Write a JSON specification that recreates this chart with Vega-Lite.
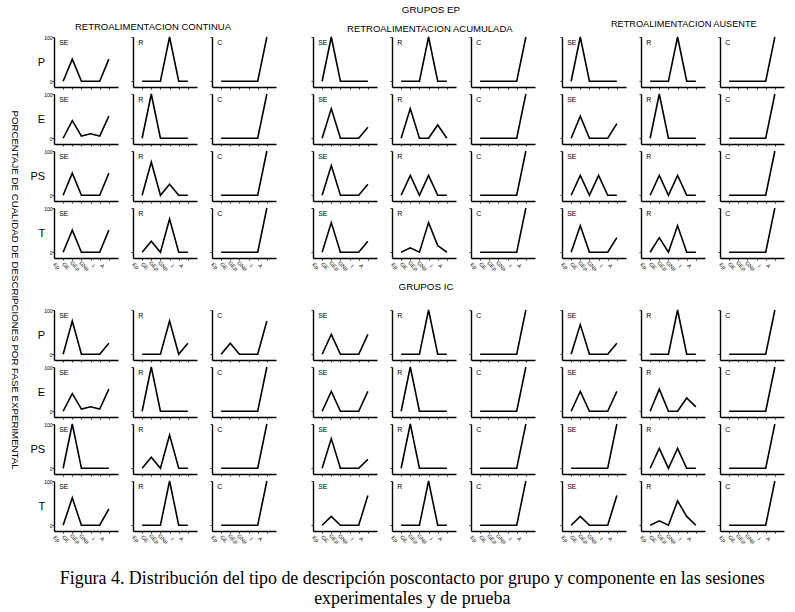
{
"$schema": "https://vega.github.io/schema/vega-lite/v6.json",
"padding": {"left": 10, "top": 4, "right": 2, "bottom": 2},
"config": {
 "font": "Liberation Sans",
 "view": {"stroke": null},
 "axis": {"domainColor": "black", "domainWidth": 1.4, "tickColor": "black", "tickWidth": 0.8, "tickSize": 2, "grid": false, "labelFontSize": 5, "labelColor": "black", "labelPadding": 1, "labelOverlap": false},
 "title": {"fontSize": 9.5, "fontWeight": "normal", "color": "black"},
 "text": {"color": "black"}
},
"title": {"text": ["Figura 4. Distribución del tipo de descripción poscontacto por grupo y componente en las sesiones", "experimentales y de prueba"], "orient": "bottom", "anchor": "middle", "font": "Liberation Serif", "fontSize": 17.9, "fontWeight": "normal", "lineHeight": 20, "offset": 25, "dx": 15},
"data": {"values": [
{"g":"EP","c":"CONT","r":"P","f":"SE","x":"Ep","y":0},{"g":"EP","c":"CONT","r":"P","f":"SE","x":"GE","y":50},{"g":"EP","c":"CONT","r":"P","f":"SE","x":"GEp","y":0},{"g":"EP","c":"CONT","r":"P","f":"SE","x":"GNp","y":0},{"g":"EP","c":"CONT","r":"P","f":"SE","x":"I","y":0},{"g":"EP","c":"CONT","r":"P","f":"SE","x":"A","y":50},
{"g":"EP","c":"CONT","r":"P","f":"R","x":"Ep","y":0},{"g":"EP","c":"CONT","r":"P","f":"R","x":"GE","y":0},{"g":"EP","c":"CONT","r":"P","f":"R","x":"GEp","y":0},{"g":"EP","c":"CONT","r":"P","f":"R","x":"GNp","y":100},{"g":"EP","c":"CONT","r":"P","f":"R","x":"I","y":0},{"g":"EP","c":"CONT","r":"P","f":"R","x":"A","y":0},
{"g":"EP","c":"CONT","r":"P","f":"C","x":"Ep","y":0},{"g":"EP","c":"CONT","r":"P","f":"C","x":"GE","y":0},{"g":"EP","c":"CONT","r":"P","f":"C","x":"GEp","y":0},{"g":"EP","c":"CONT","r":"P","f":"C","x":"GNp","y":0},{"g":"EP","c":"CONT","r":"P","f":"C","x":"I","y":0},{"g":"EP","c":"CONT","r":"P","f":"C","x":"A","y":100},
{"g":"EP","c":"CONT","r":"E","f":"SE","x":"Ep","y":0},{"g":"EP","c":"CONT","r":"E","f":"SE","x":"GE","y":40},{"g":"EP","c":"CONT","r":"E","f":"SE","x":"GEp","y":5},{"g":"EP","c":"CONT","r":"E","f":"SE","x":"GNp","y":10},{"g":"EP","c":"CONT","r":"E","f":"SE","x":"I","y":5},{"g":"EP","c":"CONT","r":"E","f":"SE","x":"A","y":50},
{"g":"EP","c":"CONT","r":"E","f":"R","x":"Ep","y":0},{"g":"EP","c":"CONT","r":"E","f":"R","x":"GE","y":100},{"g":"EP","c":"CONT","r":"E","f":"R","x":"GEp","y":0},{"g":"EP","c":"CONT","r":"E","f":"R","x":"GNp","y":0},{"g":"EP","c":"CONT","r":"E","f":"R","x":"I","y":0},{"g":"EP","c":"CONT","r":"E","f":"R","x":"A","y":0},
{"g":"EP","c":"CONT","r":"E","f":"C","x":"Ep","y":0},{"g":"EP","c":"CONT","r":"E","f":"C","x":"GE","y":0},{"g":"EP","c":"CONT","r":"E","f":"C","x":"GEp","y":0},{"g":"EP","c":"CONT","r":"E","f":"C","x":"GNp","y":0},{"g":"EP","c":"CONT","r":"E","f":"C","x":"I","y":0},{"g":"EP","c":"CONT","r":"E","f":"C","x":"A","y":100},
{"g":"EP","c":"CONT","r":"PS","f":"SE","x":"Ep","y":0},{"g":"EP","c":"CONT","r":"PS","f":"SE","x":"GE","y":50},{"g":"EP","c":"CONT","r":"PS","f":"SE","x":"GEp","y":0},{"g":"EP","c":"CONT","r":"PS","f":"SE","x":"GNp","y":0},{"g":"EP","c":"CONT","r":"PS","f":"SE","x":"I","y":0},{"g":"EP","c":"CONT","r":"PS","f":"SE","x":"A","y":50},
{"g":"EP","c":"CONT","r":"PS","f":"R","x":"Ep","y":0},{"g":"EP","c":"CONT","r":"PS","f":"R","x":"GE","y":75},{"g":"EP","c":"CONT","r":"PS","f":"R","x":"GEp","y":0},{"g":"EP","c":"CONT","r":"PS","f":"R","x":"GNp","y":25},{"g":"EP","c":"CONT","r":"PS","f":"R","x":"I","y":0},{"g":"EP","c":"CONT","r":"PS","f":"R","x":"A","y":0},
{"g":"EP","c":"CONT","r":"PS","f":"C","x":"Ep","y":0},{"g":"EP","c":"CONT","r":"PS","f":"C","x":"GE","y":0},{"g":"EP","c":"CONT","r":"PS","f":"C","x":"GEp","y":0},{"g":"EP","c":"CONT","r":"PS","f":"C","x":"GNp","y":0},{"g":"EP","c":"CONT","r":"PS","f":"C","x":"I","y":0},{"g":"EP","c":"CONT","r":"PS","f":"C","x":"A","y":100},
{"g":"EP","c":"CONT","r":"T","f":"SE","x":"Ep","y":0},{"g":"EP","c":"CONT","r":"T","f":"SE","x":"GE","y":50},{"g":"EP","c":"CONT","r":"T","f":"SE","x":"GEp","y":0},{"g":"EP","c":"CONT","r":"T","f":"SE","x":"GNp","y":0},{"g":"EP","c":"CONT","r":"T","f":"SE","x":"I","y":0},{"g":"EP","c":"CONT","r":"T","f":"SE","x":"A","y":50},
{"g":"EP","c":"CONT","r":"T","f":"R","x":"Ep","y":0},{"g":"EP","c":"CONT","r":"T","f":"R","x":"GE","y":25},{"g":"EP","c":"CONT","r":"T","f":"R","x":"GEp","y":0},{"g":"EP","c":"CONT","r":"T","f":"R","x":"GNp","y":75},{"g":"EP","c":"CONT","r":"T","f":"R","x":"I","y":0},{"g":"EP","c":"CONT","r":"T","f":"R","x":"A","y":0},
{"g":"EP","c":"CONT","r":"T","f":"C","x":"Ep","y":0},{"g":"EP","c":"CONT","r":"T","f":"C","x":"GE","y":0},{"g":"EP","c":"CONT","r":"T","f":"C","x":"GEp","y":0},{"g":"EP","c":"CONT","r":"T","f":"C","x":"GNp","y":0},{"g":"EP","c":"CONT","r":"T","f":"C","x":"I","y":0},{"g":"EP","c":"CONT","r":"T","f":"C","x":"A","y":100},

{"g":"EP","c":"ACUM","r":"P","f":"SE","x":"Ep","y":0},{"g":"EP","c":"ACUM","r":"P","f":"SE","x":"GE","y":100},{"g":"EP","c":"ACUM","r":"P","f":"SE","x":"GEp","y":0},{"g":"EP","c":"ACUM","r":"P","f":"SE","x":"GNp","y":0},{"g":"EP","c":"ACUM","r":"P","f":"SE","x":"I","y":0},{"g":"EP","c":"ACUM","r":"P","f":"SE","x":"A","y":0},
{"g":"EP","c":"ACUM","r":"P","f":"R","x":"Ep","y":0},{"g":"EP","c":"ACUM","r":"P","f":"R","x":"GE","y":0},{"g":"EP","c":"ACUM","r":"P","f":"R","x":"GEp","y":0},{"g":"EP","c":"ACUM","r":"P","f":"R","x":"GNp","y":100},{"g":"EP","c":"ACUM","r":"P","f":"R","x":"I","y":0},{"g":"EP","c":"ACUM","r":"P","f":"R","x":"A","y":0},
{"g":"EP","c":"ACUM","r":"P","f":"C","x":"Ep","y":0},{"g":"EP","c":"ACUM","r":"P","f":"C","x":"GE","y":0},{"g":"EP","c":"ACUM","r":"P","f":"C","x":"GEp","y":0},{"g":"EP","c":"ACUM","r":"P","f":"C","x":"GNp","y":0},{"g":"EP","c":"ACUM","r":"P","f":"C","x":"I","y":0},{"g":"EP","c":"ACUM","r":"P","f":"C","x":"A","y":100},
{"g":"EP","c":"ACUM","r":"E","f":"SE","x":"Ep","y":0},{"g":"EP","c":"ACUM","r":"E","f":"SE","x":"GE","y":67},{"g":"EP","c":"ACUM","r":"E","f":"SE","x":"GEp","y":0},{"g":"EP","c":"ACUM","r":"E","f":"SE","x":"GNp","y":0},{"g":"EP","c":"ACUM","r":"E","f":"SE","x":"I","y":0},{"g":"EP","c":"ACUM","r":"E","f":"SE","x":"A","y":25},
{"g":"EP","c":"ACUM","r":"E","f":"R","x":"Ep","y":0},{"g":"EP","c":"ACUM","r":"E","f":"R","x":"GE","y":67},{"g":"EP","c":"ACUM","r":"E","f":"R","x":"GEp","y":0},{"g":"EP","c":"ACUM","r":"E","f":"R","x":"GNp","y":0},{"g":"EP","c":"ACUM","r":"E","f":"R","x":"I","y":30},{"g":"EP","c":"ACUM","r":"E","f":"R","x":"A","y":0},
{"g":"EP","c":"ACUM","r":"E","f":"C","x":"Ep","y":0},{"g":"EP","c":"ACUM","r":"E","f":"C","x":"GE","y":0},{"g":"EP","c":"ACUM","r":"E","f":"C","x":"GEp","y":0},{"g":"EP","c":"ACUM","r":"E","f":"C","x":"GNp","y":0},{"g":"EP","c":"ACUM","r":"E","f":"C","x":"I","y":0},{"g":"EP","c":"ACUM","r":"E","f":"C","x":"A","y":100},
{"g":"EP","c":"ACUM","r":"PS","f":"SE","x":"Ep","y":0},{"g":"EP","c":"ACUM","r":"PS","f":"SE","x":"GE","y":67},{"g":"EP","c":"ACUM","r":"PS","f":"SE","x":"GEp","y":0},{"g":"EP","c":"ACUM","r":"PS","f":"SE","x":"GNp","y":0},{"g":"EP","c":"ACUM","r":"PS","f":"SE","x":"I","y":0},{"g":"EP","c":"ACUM","r":"PS","f":"SE","x":"A","y":25},
{"g":"EP","c":"ACUM","r":"PS","f":"R","x":"Ep","y":0},{"g":"EP","c":"ACUM","r":"PS","f":"R","x":"GE","y":45},{"g":"EP","c":"ACUM","r":"PS","f":"R","x":"GEp","y":0},{"g":"EP","c":"ACUM","r":"PS","f":"R","x":"GNp","y":45},{"g":"EP","c":"ACUM","r":"PS","f":"R","x":"I","y":0},{"g":"EP","c":"ACUM","r":"PS","f":"R","x":"A","y":0},
{"g":"EP","c":"ACUM","r":"PS","f":"C","x":"Ep","y":0},{"g":"EP","c":"ACUM","r":"PS","f":"C","x":"GE","y":0},{"g":"EP","c":"ACUM","r":"PS","f":"C","x":"GEp","y":0},{"g":"EP","c":"ACUM","r":"PS","f":"C","x":"GNp","y":0},{"g":"EP","c":"ACUM","r":"PS","f":"C","x":"I","y":0},{"g":"EP","c":"ACUM","r":"PS","f":"C","x":"A","y":100},
{"g":"EP","c":"ACUM","r":"T","f":"SE","x":"Ep","y":0},{"g":"EP","c":"ACUM","r":"T","f":"SE","x":"GE","y":67},{"g":"EP","c":"ACUM","r":"T","f":"SE","x":"GEp","y":0},{"g":"EP","c":"ACUM","r":"T","f":"SE","x":"GNp","y":0},{"g":"EP","c":"ACUM","r":"T","f":"SE","x":"I","y":0},{"g":"EP","c":"ACUM","r":"T","f":"SE","x":"A","y":25},
{"g":"EP","c":"ACUM","r":"T","f":"R","x":"Ep","y":0},{"g":"EP","c":"ACUM","r":"T","f":"R","x":"GE","y":10},{"g":"EP","c":"ACUM","r":"T","f":"R","x":"GEp","y":0},{"g":"EP","c":"ACUM","r":"T","f":"R","x":"GNp","y":67},{"g":"EP","c":"ACUM","r":"T","f":"R","x":"I","y":15},{"g":"EP","c":"ACUM","r":"T","f":"R","x":"A","y":0},
{"g":"EP","c":"ACUM","r":"T","f":"C","x":"Ep","y":0},{"g":"EP","c":"ACUM","r":"T","f":"C","x":"GE","y":0},{"g":"EP","c":"ACUM","r":"T","f":"C","x":"GEp","y":0},{"g":"EP","c":"ACUM","r":"T","f":"C","x":"GNp","y":0},{"g":"EP","c":"ACUM","r":"T","f":"C","x":"I","y":0},{"g":"EP","c":"ACUM","r":"T","f":"C","x":"A","y":100},

{"g":"EP","c":"AUS","r":"P","f":"SE","x":"Ep","y":0},{"g":"EP","c":"AUS","r":"P","f":"SE","x":"GE","y":100},{"g":"EP","c":"AUS","r":"P","f":"SE","x":"GEp","y":0},{"g":"EP","c":"AUS","r":"P","f":"SE","x":"GNp","y":0},{"g":"EP","c":"AUS","r":"P","f":"SE","x":"I","y":0},{"g":"EP","c":"AUS","r":"P","f":"SE","x":"A","y":0},
{"g":"EP","c":"AUS","r":"P","f":"R","x":"Ep","y":0},{"g":"EP","c":"AUS","r":"P","f":"R","x":"GE","y":0},{"g":"EP","c":"AUS","r":"P","f":"R","x":"GEp","y":0},{"g":"EP","c":"AUS","r":"P","f":"R","x":"GNp","y":100},{"g":"EP","c":"AUS","r":"P","f":"R","x":"I","y":0},{"g":"EP","c":"AUS","r":"P","f":"R","x":"A","y":0},
{"g":"EP","c":"AUS","r":"P","f":"C","x":"Ep","y":0},{"g":"EP","c":"AUS","r":"P","f":"C","x":"GE","y":0},{"g":"EP","c":"AUS","r":"P","f":"C","x":"GEp","y":0},{"g":"EP","c":"AUS","r":"P","f":"C","x":"GNp","y":0},{"g":"EP","c":"AUS","r":"P","f":"C","x":"I","y":0},{"g":"EP","c":"AUS","r":"P","f":"C","x":"A","y":100},
{"g":"EP","c":"AUS","r":"E","f":"SE","x":"Ep","y":0},{"g":"EP","c":"AUS","r":"E","f":"SE","x":"GE","y":50},{"g":"EP","c":"AUS","r":"E","f":"SE","x":"GEp","y":0},{"g":"EP","c":"AUS","r":"E","f":"SE","x":"GNp","y":0},{"g":"EP","c":"AUS","r":"E","f":"SE","x":"I","y":0},{"g":"EP","c":"AUS","r":"E","f":"SE","x":"A","y":33},
{"g":"EP","c":"AUS","r":"E","f":"R","x":"Ep","y":0},{"g":"EP","c":"AUS","r":"E","f":"R","x":"GE","y":100},{"g":"EP","c":"AUS","r":"E","f":"R","x":"GEp","y":0},{"g":"EP","c":"AUS","r":"E","f":"R","x":"GNp","y":0},{"g":"EP","c":"AUS","r":"E","f":"R","x":"I","y":0},{"g":"EP","c":"AUS","r":"E","f":"R","x":"A","y":0},
{"g":"EP","c":"AUS","r":"E","f":"C","x":"Ep","y":0},{"g":"EP","c":"AUS","r":"E","f":"C","x":"GE","y":0},{"g":"EP","c":"AUS","r":"E","f":"C","x":"GEp","y":0},{"g":"EP","c":"AUS","r":"E","f":"C","x":"GNp","y":0},{"g":"EP","c":"AUS","r":"E","f":"C","x":"I","y":0},{"g":"EP","c":"AUS","r":"E","f":"C","x":"A","y":100},
{"g":"EP","c":"AUS","r":"PS","f":"SE","x":"Ep","y":0},{"g":"EP","c":"AUS","r":"PS","f":"SE","x":"GE","y":45},{"g":"EP","c":"AUS","r":"PS","f":"SE","x":"GEp","y":0},{"g":"EP","c":"AUS","r":"PS","f":"SE","x":"GNp","y":45},{"g":"EP","c":"AUS","r":"PS","f":"SE","x":"I","y":0},{"g":"EP","c":"AUS","r":"PS","f":"SE","x":"A","y":0},
{"g":"EP","c":"AUS","r":"PS","f":"R","x":"Ep","y":0},{"g":"EP","c":"AUS","r":"PS","f":"R","x":"GE","y":45},{"g":"EP","c":"AUS","r":"PS","f":"R","x":"GEp","y":0},{"g":"EP","c":"AUS","r":"PS","f":"R","x":"GNp","y":45},{"g":"EP","c":"AUS","r":"PS","f":"R","x":"I","y":0},{"g":"EP","c":"AUS","r":"PS","f":"R","x":"A","y":0},
{"g":"EP","c":"AUS","r":"PS","f":"C","x":"Ep","y":0},{"g":"EP","c":"AUS","r":"PS","f":"C","x":"GE","y":0},{"g":"EP","c":"AUS","r":"PS","f":"C","x":"GEp","y":0},{"g":"EP","c":"AUS","r":"PS","f":"C","x":"GNp","y":0},{"g":"EP","c":"AUS","r":"PS","f":"C","x":"I","y":0},{"g":"EP","c":"AUS","r":"PS","f":"C","x":"A","y":100},
{"g":"EP","c":"AUS","r":"T","f":"SE","x":"Ep","y":0},{"g":"EP","c":"AUS","r":"T","f":"SE","x":"GE","y":60},{"g":"EP","c":"AUS","r":"T","f":"SE","x":"GEp","y":0},{"g":"EP","c":"AUS","r":"T","f":"SE","x":"GNp","y":0},{"g":"EP","c":"AUS","r":"T","f":"SE","x":"I","y":0},{"g":"EP","c":"AUS","r":"T","f":"SE","x":"A","y":33},
{"g":"EP","c":"AUS","r":"T","f":"R","x":"Ep","y":0},{"g":"EP","c":"AUS","r":"T","f":"R","x":"GE","y":33},{"g":"EP","c":"AUS","r":"T","f":"R","x":"GEp","y":0},{"g":"EP","c":"AUS","r":"T","f":"R","x":"GNp","y":60},{"g":"EP","c":"AUS","r":"T","f":"R","x":"I","y":0},{"g":"EP","c":"AUS","r":"T","f":"R","x":"A","y":0},
{"g":"EP","c":"AUS","r":"T","f":"C","x":"Ep","y":0},{"g":"EP","c":"AUS","r":"T","f":"C","x":"GE","y":0},{"g":"EP","c":"AUS","r":"T","f":"C","x":"GEp","y":0},{"g":"EP","c":"AUS","r":"T","f":"C","x":"GNp","y":0},{"g":"EP","c":"AUS","r":"T","f":"C","x":"I","y":0},{"g":"EP","c":"AUS","r":"T","f":"C","x":"A","y":100},

{"g":"IC","c":"CONT","r":"P","f":"SE","x":"Ep","y":0},{"g":"IC","c":"CONT","r":"P","f":"SE","x":"GE","y":75},{"g":"IC","c":"CONT","r":"P","f":"SE","x":"GEp","y":0},{"g":"IC","c":"CONT","r":"P","f":"SE","x":"GNp","y":0},{"g":"IC","c":"CONT","r":"P","f":"SE","x":"I","y":0},{"g":"IC","c":"CONT","r":"P","f":"SE","x":"A","y":25},
{"g":"IC","c":"CONT","r":"P","f":"R","x":"Ep","y":0},{"g":"IC","c":"CONT","r":"P","f":"R","x":"GE","y":0},{"g":"IC","c":"CONT","r":"P","f":"R","x":"GEp","y":0},{"g":"IC","c":"CONT","r":"P","f":"R","x":"GNp","y":75},{"g":"IC","c":"CONT","r":"P","f":"R","x":"I","y":0},{"g":"IC","c":"CONT","r":"P","f":"R","x":"A","y":25},
{"g":"IC","c":"CONT","r":"P","f":"C","x":"Ep","y":0},{"g":"IC","c":"CONT","r":"P","f":"C","x":"GE","y":25},{"g":"IC","c":"CONT","r":"P","f":"C","x":"GEp","y":0},{"g":"IC","c":"CONT","r":"P","f":"C","x":"GNp","y":0},{"g":"IC","c":"CONT","r":"P","f":"C","x":"I","y":0},{"g":"IC","c":"CONT","r":"P","f":"C","x":"A","y":75},
{"g":"IC","c":"CONT","r":"E","f":"SE","x":"Ep","y":0},{"g":"IC","c":"CONT","r":"E","f":"SE","x":"GE","y":40},{"g":"IC","c":"CONT","r":"E","f":"SE","x":"GEp","y":5},{"g":"IC","c":"CONT","r":"E","f":"SE","x":"GNp","y":10},{"g":"IC","c":"CONT","r":"E","f":"SE","x":"I","y":5},{"g":"IC","c":"CONT","r":"E","f":"SE","x":"A","y":50},
{"g":"IC","c":"CONT","r":"E","f":"R","x":"Ep","y":0},{"g":"IC","c":"CONT","r":"E","f":"R","x":"GE","y":100},{"g":"IC","c":"CONT","r":"E","f":"R","x":"GEp","y":0},{"g":"IC","c":"CONT","r":"E","f":"R","x":"GNp","y":0},{"g":"IC","c":"CONT","r":"E","f":"R","x":"I","y":0},{"g":"IC","c":"CONT","r":"E","f":"R","x":"A","y":0},
{"g":"IC","c":"CONT","r":"E","f":"C","x":"Ep","y":0},{"g":"IC","c":"CONT","r":"E","f":"C","x":"GE","y":0},{"g":"IC","c":"CONT","r":"E","f":"C","x":"GEp","y":0},{"g":"IC","c":"CONT","r":"E","f":"C","x":"GNp","y":0},{"g":"IC","c":"CONT","r":"E","f":"C","x":"I","y":0},{"g":"IC","c":"CONT","r":"E","f":"C","x":"A","y":100},
{"g":"IC","c":"CONT","r":"PS","f":"SE","x":"Ep","y":0},{"g":"IC","c":"CONT","r":"PS","f":"SE","x":"GE","y":100},{"g":"IC","c":"CONT","r":"PS","f":"SE","x":"GEp","y":0},{"g":"IC","c":"CONT","r":"PS","f":"SE","x":"GNp","y":0},{"g":"IC","c":"CONT","r":"PS","f":"SE","x":"I","y":0},{"g":"IC","c":"CONT","r":"PS","f":"SE","x":"A","y":0},
{"g":"IC","c":"CONT","r":"PS","f":"R","x":"Ep","y":0},{"g":"IC","c":"CONT","r":"PS","f":"R","x":"GE","y":25},{"g":"IC","c":"CONT","r":"PS","f":"R","x":"GEp","y":0},{"g":"IC","c":"CONT","r":"PS","f":"R","x":"GNp","y":75},{"g":"IC","c":"CONT","r":"PS","f":"R","x":"I","y":0},{"g":"IC","c":"CONT","r":"PS","f":"R","x":"A","y":0},
{"g":"IC","c":"CONT","r":"PS","f":"C","x":"Ep","y":0},{"g":"IC","c":"CONT","r":"PS","f":"C","x":"GE","y":0},{"g":"IC","c":"CONT","r":"PS","f":"C","x":"GEp","y":0},{"g":"IC","c":"CONT","r":"PS","f":"C","x":"GNp","y":0},{"g":"IC","c":"CONT","r":"PS","f":"C","x":"I","y":0},{"g":"IC","c":"CONT","r":"PS","f":"C","x":"A","y":100},
{"g":"IC","c":"CONT","r":"T","f":"SE","x":"Ep","y":0},{"g":"IC","c":"CONT","r":"T","f":"SE","x":"GE","y":62},{"g":"IC","c":"CONT","r":"T","f":"SE","x":"GEp","y":0},{"g":"IC","c":"CONT","r":"T","f":"SE","x":"GNp","y":0},{"g":"IC","c":"CONT","r":"T","f":"SE","x":"I","y":0},{"g":"IC","c":"CONT","r":"T","f":"SE","x":"A","y":37},
{"g":"IC","c":"CONT","r":"T","f":"R","x":"Ep","y":0},{"g":"IC","c":"CONT","r":"T","f":"R","x":"GE","y":0},{"g":"IC","c":"CONT","r":"T","f":"R","x":"GEp","y":0},{"g":"IC","c":"CONT","r":"T","f":"R","x":"GNp","y":100},{"g":"IC","c":"CONT","r":"T","f":"R","x":"I","y":0},{"g":"IC","c":"CONT","r":"T","f":"R","x":"A","y":0},
{"g":"IC","c":"CONT","r":"T","f":"C","x":"Ep","y":0},{"g":"IC","c":"CONT","r":"T","f":"C","x":"GE","y":0},{"g":"IC","c":"CONT","r":"T","f":"C","x":"GEp","y":0},{"g":"IC","c":"CONT","r":"T","f":"C","x":"GNp","y":0},{"g":"IC","c":"CONT","r":"T","f":"C","x":"I","y":0},{"g":"IC","c":"CONT","r":"T","f":"C","x":"A","y":100},

{"g":"IC","c":"ACUM","r":"P","f":"SE","x":"Ep","y":0},{"g":"IC","c":"ACUM","r":"P","f":"SE","x":"GE","y":45},{"g":"IC","c":"ACUM","r":"P","f":"SE","x":"GEp","y":0},{"g":"IC","c":"ACUM","r":"P","f":"SE","x":"GNp","y":0},{"g":"IC","c":"ACUM","r":"P","f":"SE","x":"I","y":0},{"g":"IC","c":"ACUM","r":"P","f":"SE","x":"A","y":45},
{"g":"IC","c":"ACUM","r":"P","f":"R","x":"Ep","y":0},{"g":"IC","c":"ACUM","r":"P","f":"R","x":"GE","y":0},{"g":"IC","c":"ACUM","r":"P","f":"R","x":"GEp","y":0},{"g":"IC","c":"ACUM","r":"P","f":"R","x":"GNp","y":100},{"g":"IC","c":"ACUM","r":"P","f":"R","x":"I","y":0},{"g":"IC","c":"ACUM","r":"P","f":"R","x":"A","y":0},
{"g":"IC","c":"ACUM","r":"P","f":"C","x":"Ep","y":0},{"g":"IC","c":"ACUM","r":"P","f":"C","x":"GE","y":0},{"g":"IC","c":"ACUM","r":"P","f":"C","x":"GEp","y":0},{"g":"IC","c":"ACUM","r":"P","f":"C","x":"GNp","y":0},{"g":"IC","c":"ACUM","r":"P","f":"C","x":"I","y":0},{"g":"IC","c":"ACUM","r":"P","f":"C","x":"A","y":100},
{"g":"IC","c":"ACUM","r":"E","f":"SE","x":"Ep","y":0},{"g":"IC","c":"ACUM","r":"E","f":"SE","x":"GE","y":45},{"g":"IC","c":"ACUM","r":"E","f":"SE","x":"GEp","y":0},{"g":"IC","c":"ACUM","r":"E","f":"SE","x":"GNp","y":0},{"g":"IC","c":"ACUM","r":"E","f":"SE","x":"I","y":0},{"g":"IC","c":"ACUM","r":"E","f":"SE","x":"A","y":45},
{"g":"IC","c":"ACUM","r":"E","f":"R","x":"Ep","y":0},{"g":"IC","c":"ACUM","r":"E","f":"R","x":"GE","y":100},{"g":"IC","c":"ACUM","r":"E","f":"R","x":"GEp","y":0},{"g":"IC","c":"ACUM","r":"E","f":"R","x":"GNp","y":0},{"g":"IC","c":"ACUM","r":"E","f":"R","x":"I","y":0},{"g":"IC","c":"ACUM","r":"E","f":"R","x":"A","y":0},
{"g":"IC","c":"ACUM","r":"E","f":"C","x":"Ep","y":0},{"g":"IC","c":"ACUM","r":"E","f":"C","x":"GE","y":0},{"g":"IC","c":"ACUM","r":"E","f":"C","x":"GEp","y":0},{"g":"IC","c":"ACUM","r":"E","f":"C","x":"GNp","y":0},{"g":"IC","c":"ACUM","r":"E","f":"C","x":"I","y":0},{"g":"IC","c":"ACUM","r":"E","f":"C","x":"A","y":100},
{"g":"IC","c":"ACUM","r":"PS","f":"SE","x":"Ep","y":0},{"g":"IC","c":"ACUM","r":"PS","f":"SE","x":"GE","y":67},{"g":"IC","c":"ACUM","r":"PS","f":"SE","x":"GEp","y":0},{"g":"IC","c":"ACUM","r":"PS","f":"SE","x":"GNp","y":0},{"g":"IC","c":"ACUM","r":"PS","f":"SE","x":"I","y":0},{"g":"IC","c":"ACUM","r":"PS","f":"SE","x":"A","y":20},
{"g":"IC","c":"ACUM","r":"PS","f":"R","x":"Ep","y":0},{"g":"IC","c":"ACUM","r":"PS","f":"R","x":"GE","y":100},{"g":"IC","c":"ACUM","r":"PS","f":"R","x":"GEp","y":0},{"g":"IC","c":"ACUM","r":"PS","f":"R","x":"GNp","y":0},{"g":"IC","c":"ACUM","r":"PS","f":"R","x":"I","y":0},{"g":"IC","c":"ACUM","r":"PS","f":"R","x":"A","y":0},
{"g":"IC","c":"ACUM","r":"PS","f":"C","x":"Ep","y":0},{"g":"IC","c":"ACUM","r":"PS","f":"C","x":"GE","y":0},{"g":"IC","c":"ACUM","r":"PS","f":"C","x":"GEp","y":0},{"g":"IC","c":"ACUM","r":"PS","f":"C","x":"GNp","y":0},{"g":"IC","c":"ACUM","r":"PS","f":"C","x":"I","y":0},{"g":"IC","c":"ACUM","r":"PS","f":"C","x":"A","y":100},
{"g":"IC","c":"ACUM","r":"T","f":"SE","x":"Ep","y":0},{"g":"IC","c":"ACUM","r":"T","f":"SE","x":"GE","y":20},{"g":"IC","c":"ACUM","r":"T","f":"SE","x":"GEp","y":0},{"g":"IC","c":"ACUM","r":"T","f":"SE","x":"GNp","y":0},{"g":"IC","c":"ACUM","r":"T","f":"SE","x":"I","y":0},{"g":"IC","c":"ACUM","r":"T","f":"SE","x":"A","y":67},
{"g":"IC","c":"ACUM","r":"T","f":"R","x":"Ep","y":0},{"g":"IC","c":"ACUM","r":"T","f":"R","x":"GE","y":0},{"g":"IC","c":"ACUM","r":"T","f":"R","x":"GEp","y":0},{"g":"IC","c":"ACUM","r":"T","f":"R","x":"GNp","y":100},{"g":"IC","c":"ACUM","r":"T","f":"R","x":"I","y":0},{"g":"IC","c":"ACUM","r":"T","f":"R","x":"A","y":0},
{"g":"IC","c":"ACUM","r":"T","f":"C","x":"Ep","y":0},{"g":"IC","c":"ACUM","r":"T","f":"C","x":"GE","y":0},{"g":"IC","c":"ACUM","r":"T","f":"C","x":"GEp","y":0},{"g":"IC","c":"ACUM","r":"T","f":"C","x":"GNp","y":0},{"g":"IC","c":"ACUM","r":"T","f":"C","x":"I","y":0},{"g":"IC","c":"ACUM","r":"T","f":"C","x":"A","y":100},

{"g":"IC","c":"AUS","r":"P","f":"SE","x":"Ep","y":0},{"g":"IC","c":"AUS","r":"P","f":"SE","x":"GE","y":67},{"g":"IC","c":"AUS","r":"P","f":"SE","x":"GEp","y":0},{"g":"IC","c":"AUS","r":"P","f":"SE","x":"GNp","y":0},{"g":"IC","c":"AUS","r":"P","f":"SE","x":"I","y":0},{"g":"IC","c":"AUS","r":"P","f":"SE","x":"A","y":25},
{"g":"IC","c":"AUS","r":"P","f":"R","x":"Ep","y":0},{"g":"IC","c":"AUS","r":"P","f":"R","x":"GE","y":0},{"g":"IC","c":"AUS","r":"P","f":"R","x":"GEp","y":0},{"g":"IC","c":"AUS","r":"P","f":"R","x":"GNp","y":100},{"g":"IC","c":"AUS","r":"P","f":"R","x":"I","y":0},{"g":"IC","c":"AUS","r":"P","f":"R","x":"A","y":0},
{"g":"IC","c":"AUS","r":"P","f":"C","x":"Ep","y":0},{"g":"IC","c":"AUS","r":"P","f":"C","x":"GE","y":0},{"g":"IC","c":"AUS","r":"P","f":"C","x":"GEp","y":0},{"g":"IC","c":"AUS","r":"P","f":"C","x":"GNp","y":0},{"g":"IC","c":"AUS","r":"P","f":"C","x":"I","y":0},{"g":"IC","c":"AUS","r":"P","f":"C","x":"A","y":100},
{"g":"IC","c":"AUS","r":"E","f":"SE","x":"Ep","y":0},{"g":"IC","c":"AUS","r":"E","f":"SE","x":"GE","y":45},{"g":"IC","c":"AUS","r":"E","f":"SE","x":"GEp","y":0},{"g":"IC","c":"AUS","r":"E","f":"SE","x":"GNp","y":0},{"g":"IC","c":"AUS","r":"E","f":"SE","x":"I","y":0},{"g":"IC","c":"AUS","r":"E","f":"SE","x":"A","y":45},
{"g":"IC","c":"AUS","r":"E","f":"R","x":"Ep","y":0},{"g":"IC","c":"AUS","r":"E","f":"R","x":"GE","y":50},{"g":"IC","c":"AUS","r":"E","f":"R","x":"GEp","y":0},{"g":"IC","c":"AUS","r":"E","f":"R","x":"GNp","y":0},{"g":"IC","c":"AUS","r":"E","f":"R","x":"I","y":30},{"g":"IC","c":"AUS","r":"E","f":"R","x":"A","y":10},
{"g":"IC","c":"AUS","r":"E","f":"C","x":"Ep","y":0},{"g":"IC","c":"AUS","r":"E","f":"C","x":"GE","y":0},{"g":"IC","c":"AUS","r":"E","f":"C","x":"GEp","y":0},{"g":"IC","c":"AUS","r":"E","f":"C","x":"GNp","y":0},{"g":"IC","c":"AUS","r":"E","f":"C","x":"I","y":0},{"g":"IC","c":"AUS","r":"E","f":"C","x":"A","y":100},
{"g":"IC","c":"AUS","r":"PS","f":"SE","x":"Ep","y":0},{"g":"IC","c":"AUS","r":"PS","f":"SE","x":"GE","y":0},{"g":"IC","c":"AUS","r":"PS","f":"SE","x":"GEp","y":0},{"g":"IC","c":"AUS","r":"PS","f":"SE","x":"GNp","y":0},{"g":"IC","c":"AUS","r":"PS","f":"SE","x":"I","y":0},{"g":"IC","c":"AUS","r":"PS","f":"SE","x":"A","y":100},
{"g":"IC","c":"AUS","r":"PS","f":"R","x":"Ep","y":0},{"g":"IC","c":"AUS","r":"PS","f":"R","x":"GE","y":45},{"g":"IC","c":"AUS","r":"PS","f":"R","x":"GEp","y":0},{"g":"IC","c":"AUS","r":"PS","f":"R","x":"GNp","y":45},{"g":"IC","c":"AUS","r":"PS","f":"R","x":"I","y":0},{"g":"IC","c":"AUS","r":"PS","f":"R","x":"A","y":0},
{"g":"IC","c":"AUS","r":"PS","f":"C","x":"Ep","y":0},{"g":"IC","c":"AUS","r":"PS","f":"C","x":"GE","y":0},{"g":"IC","c":"AUS","r":"PS","f":"C","x":"GEp","y":0},{"g":"IC","c":"AUS","r":"PS","f":"C","x":"GNp","y":0},{"g":"IC","c":"AUS","r":"PS","f":"C","x":"I","y":0},{"g":"IC","c":"AUS","r":"PS","f":"C","x":"A","y":100},
{"g":"IC","c":"AUS","r":"T","f":"SE","x":"Ep","y":0},{"g":"IC","c":"AUS","r":"T","f":"SE","x":"GE","y":20},{"g":"IC","c":"AUS","r":"T","f":"SE","x":"GEp","y":0},{"g":"IC","c":"AUS","r":"T","f":"SE","x":"GNp","y":0},{"g":"IC","c":"AUS","r":"T","f":"SE","x":"I","y":0},{"g":"IC","c":"AUS","r":"T","f":"SE","x":"A","y":67},
{"g":"IC","c":"AUS","r":"T","f":"R","x":"Ep","y":0},{"g":"IC","c":"AUS","r":"T","f":"R","x":"GE","y":10},{"g":"IC","c":"AUS","r":"T","f":"R","x":"GEp","y":0},{"g":"IC","c":"AUS","r":"T","f":"R","x":"GNp","y":55},{"g":"IC","c":"AUS","r":"T","f":"R","x":"I","y":20},{"g":"IC","c":"AUS","r":"T","f":"R","x":"A","y":0},
{"g":"IC","c":"AUS","r":"T","f":"C","x":"Ep","y":0},{"g":"IC","c":"AUS","r":"T","f":"C","x":"GE","y":0},{"g":"IC","c":"AUS","r":"T","f":"C","x":"GEp","y":0},{"g":"IC","c":"AUS","r":"T","f":"C","x":"GNp","y":0},{"g":"IC","c":"AUS","r":"T","f":"C","x":"I","y":0},{"g":"IC","c":"AUS","r":"T","f":"C","x":"A","y":100}
]},
"vconcat": [{
 "title": {"text": "PORCENTAJE DE CUALIDAD DE DESCRIPCIONES POR FASE EXPERIMENTAL", "orient": "left", "angle": 90, "anchor": "middle", "fontSize": 9.7, "offset": 0, "dx": 15},
 "spacing": 9,
 "vconcat": [
  {"title": {"text": "GRUPOS EP", "anchor": "middle", "offset": 5, "fontSize": 9.8, "dx": 24},
   "spacing": 24,
   "hconcat": [
    {"spacing": 34,
     "hconcat": [
      {"title": {"text": "RETROALIMENTACION CONTINUA", "anchor": "middle", "offset": 2},
       "spacing": 12,
       "hconcat": [
        {"spacing": 7, "bounds": "flush",
         "vconcat": [
          {"transform": [{"filter": "datum.g == 'EP' && datum.c == 'CONT' && datum.f == 'SE' && datum.r == 'P'"}],
           "width": 64, "height": 50, "layer": [
            {"mark": {"type": "line", "color": "black", "strokeWidth": 1.6},
             "encoding": {"x": {"field": "x", "type": "ordinal", "sort": ["Ep","GE","GEp","GNp","I","A"], "scale": {"type": "point", "padding": 1}, "axis": {"title": null, "labels": false}},
              "y": {"field": "y", "type": "quantitative", "scale": {"domain": [-13,100], "nice": false, "zero": false}, "axis": {"title": "P", "titleAngle": 0, "titleAlign": "right", "titleBaseline": "middle", "titleFontSize": 11, "titleFontWeight": "normal", "titlePadding": -1, "labels": true, "labelPadding": 0, "labelOverlap": false, "labelSeparation": 0, "values": [0,20,40,60,80,100]}}}},
            {"transform": [{"filter": "datum.x == 'Ep'"}], "mark": {"type": "text", "align": "left", "baseline": "top", "dx": -4, "dy": 2, "fontSize": 7, "fill": "black"},
             "encoding": {"x": {"field": "x", "type": "ordinal", "sort": ["Ep","GE","GEp","GNp","I","A"], "title": null}, "y": {"datum": 100, "title": null}, "text": {"field": "f"}}}
           ]},
          {"transform": [{"filter": "datum.g == 'EP' && datum.c == 'CONT' && datum.f == 'SE' && datum.r == 'E'"}],
           "width": 64, "height": 50, "layer": [
            {"mark": {"type": "line", "color": "black", "strokeWidth": 1.6},
             "encoding": {"x": {"field": "x", "type": "ordinal", "sort": ["Ep","GE","GEp","GNp","I","A"], "scale": {"type": "point", "padding": 1}, "axis": {"title": null, "labels": false}},
              "y": {"field": "y", "type": "quantitative", "scale": {"domain": [-13,100], "nice": false, "zero": false}, "axis": {"title": "E", "titleAngle": 0, "titleAlign": "right", "titleBaseline": "middle", "titleFontSize": 11, "titleFontWeight": "normal", "titlePadding": -1, "labels": true, "labelPadding": 0, "labelOverlap": false, "labelSeparation": 0, "values": [0,20,40,60,80,100]}}}},
            {"transform": [{"filter": "datum.x == 'Ep'"}], "mark": {"type": "text", "align": "left", "baseline": "top", "dx": -4, "dy": 2, "fontSize": 7, "fill": "black"},
             "encoding": {"x": {"field": "x", "type": "ordinal", "sort": ["Ep","GE","GEp","GNp","I","A"], "title": null}, "y": {"datum": 100, "title": null}, "text": {"field": "f"}}}
           ]},
          {"transform": [{"filter": "datum.g == 'EP' && datum.c == 'CONT' && datum.f == 'SE' && datum.r == 'PS'"}],
           "width": 64, "height": 50, "layer": [
            {"mark": {"type": "line", "color": "black", "strokeWidth": 1.6},
             "encoding": {"x": {"field": "x", "type": "ordinal", "sort": ["Ep","GE","GEp","GNp","I","A"], "scale": {"type": "point", "padding": 1}, "axis": {"title": null, "labels": false}},
              "y": {"field": "y", "type": "quantitative", "scale": {"domain": [-13,100], "nice": false, "zero": false}, "axis": {"title": "PS", "titleAngle": 0, "titleAlign": "right", "titleBaseline": "middle", "titleFontSize": 11, "titleFontWeight": "normal", "titlePadding": -1, "labels": true, "labelPadding": 0, "labelOverlap": false, "labelSeparation": 0, "values": [0,20,40,60,80,100]}}}},
            {"transform": [{"filter": "datum.x == 'Ep'"}], "mark": {"type": "text", "align": "left", "baseline": "top", "dx": -4, "dy": 2, "fontSize": 7, "fill": "black"},
             "encoding": {"x": {"field": "x", "type": "ordinal", "sort": ["Ep","GE","GEp","GNp","I","A"], "title": null}, "y": {"datum": 100, "title": null}, "text": {"field": "f"}}}
           ]},
          {"transform": [{"filter": "datum.g == 'EP' && datum.c == 'CONT' && datum.f == 'SE' && datum.r == 'T'"}],
           "width": 64, "height": 50, "layer": [
            {"mark": {"type": "line", "color": "black", "strokeWidth": 1.6},
             "encoding": {"x": {"field": "x", "type": "ordinal", "sort": ["Ep","GE","GEp","GNp","I","A"], "scale": {"type": "point", "padding": 1}, "axis": {"title": null, "labels": false}},
              "y": {"field": "y", "type": "quantitative", "scale": {"domain": [-13,100], "nice": false, "zero": false}, "axis": {"title": "T", "titleAngle": 0, "titleAlign": "right", "titleBaseline": "middle", "titleFontSize": 11, "titleFontWeight": "normal", "titlePadding": -1, "labels": true, "labelPadding": 0, "labelOverlap": false, "labelSeparation": 0, "values": [0,20,40,60,80,100]}}}},
            {"transform": [{"filter": "datum.x == 'Ep'"}], "mark": {"type": "text", "align": "left", "baseline": "top", "dx": -4, "dy": 2, "fontSize": 7, "fill": "black"},
             "encoding": {"x": {"field": "x", "type": "ordinal", "sort": ["Ep","GE","GEp","GNp","I","A"], "title": null}, "y": {"datum": 100, "title": null}, "text": {"field": "f"}}},
            {"mark": {"type": "text", "angle": 45, "align": "center", "baseline": "middle", "dx": 1, "dy": 10, "fontSize": 5.5, "fill": "black"},
             "encoding": {"x": {"field": "x", "type": "ordinal", "sort": ["Ep","GE","GEp","GNp","I","A"], "title": null}, "y": {"datum": -13, "title": null}, "text": {"field": "x"}}}
           ]}
         ]},
        {"transform": [{"filter": "datum.g == 'EP' && datum.c == 'CONT' && datum.f != 'SE'"}],
         "facet": {"row": {"field": "r", "type": "nominal", "sort": ["P","E","PS","T"], "title": null, "header": {"labels": false}},
                   "column": {"field": "f", "type": "nominal", "sort": ["SE","R","C"], "title": null, "header": {"labels": false}}},
         "spacing": {"row": 7, "column": 15}, "bounds": "flush",
         "resolve": {"axis": {"x": "independent", "y": "independent"}},
         "spec": {"width": 64, "height": 50, "layer": [
          {"mark": {"type": "line", "color": "black", "strokeWidth": 1.6},
           "encoding": {"x": {"field": "x", "type": "ordinal", "sort": ["Ep","GE","GEp","GNp","I","A"], "scale": {"type": "point", "padding": 1}, "axis": {"title": null, "labels": false}},
            "y": {"field": "y", "type": "quantitative", "scale": {"domain": [-13,100], "nice": false, "zero": false}, "axis": {"title": null, "labels": false, "values": [0,20,40,60,80,100]}}}},
          {"transform": [{"filter": "datum.x == 'Ep'"}], "mark": {"type": "text", "align": "left", "baseline": "top", "dx": -4, "dy": 2, "fontSize": 7, "fill": "black"},
           "encoding": {"x": {"field": "x", "type": "ordinal", "sort": ["Ep","GE","GEp","GNp","I","A"], "title": null}, "y": {"datum": 100, "title": null}, "text": {"field": "f"}}},
          {"transform": [{"filter": "datum.r == 'T'"}], "mark": {"type": "text", "angle": 45, "align": "center", "baseline": "middle", "dx": 1, "dy": 10, "fontSize": 5.5, "fill": "black"},
           "encoding": {"x": {"field": "x", "type": "ordinal", "sort": ["Ep","GE","GEp","GNp","I","A"], "title": null}, "y": {"datum": -13, "title": null}, "text": {"field": "x"}}}
         ]}}
       ]},
      {"transform": [{"filter": "datum.g == 'EP' && datum.c == 'ACUM'"}],
       "title": {"text": "RETROALIMENTACION ACUMULADA", "anchor": "middle", "offset": 0, "dx": 7},
       "facet": {"row": {"field": "r", "type": "nominal", "sort": ["P","E","PS","T"], "title": null, "header": {"labels": false}},
                 "column": {"field": "f", "type": "nominal", "sort": ["SE","R","C"], "title": null, "header": {"labels": false}}},
       "spacing": {"row": 7, "column": 15}, "bounds": "flush",
       "resolve": {"axis": {"x": "independent", "y": "independent"}},
       "spec": {"width": 64, "height": 50, "layer": [
        {"mark": {"type": "line", "color": "black", "strokeWidth": 1.6},
         "encoding": {"x": {"field": "x", "type": "ordinal", "sort": ["Ep","GE","GEp","GNp","I","A"], "scale": {"type": "point", "padding": 1}, "axis": {"title": null, "labels": false}},
          "y": {"field": "y", "type": "quantitative", "scale": {"domain": [-13,100], "nice": false, "zero": false}, "axis": {"title": null, "labels": false, "values": [0,20,40,60,80,100]}}}},
        {"transform": [{"filter": "datum.x == 'Ep'"}], "mark": {"type": "text", "align": "left", "baseline": "top", "dx": -4, "dy": 2, "fontSize": 7, "fill": "black"},
         "encoding": {"x": {"field": "x", "type": "ordinal", "sort": ["Ep","GE","GEp","GNp","I","A"], "title": null}, "y": {"datum": 100, "title": null}, "text": {"field": "f"}}},
        {"transform": [{"filter": "datum.r == 'T'"}], "mark": {"type": "text", "angle": 45, "align": "center", "baseline": "middle", "dx": 1, "dy": 10, "fontSize": 5.5, "fill": "black"},
         "encoding": {"x": {"field": "x", "type": "ordinal", "sort": ["Ep","GE","GEp","GNp","I","A"], "title": null}, "y": {"datum": -13, "title": null}, "text": {"field": "x"}}}
       ]}}
     ]},
    {"transform": [{"filter": "datum.g == 'EP' && datum.c == 'AUS'"}],
     "title": {"text": "RETROALIMENTACION AUSENTE", "anchor": "middle", "offset": 5, "dx": 12, "fontSize": 9.2},
     "facet": {"row": {"field": "r", "type": "nominal", "sort": ["P","E","PS","T"], "title": null, "header": {"labels": false}},
               "column": {"field": "f", "type": "nominal", "sort": ["SE","R","C"], "title": null, "header": {"labels": false}}},
     "spacing": {"row": 7, "column": 15}, "bounds": "flush",
     "resolve": {"axis": {"x": "independent", "y": "independent"}},
     "spec": {"width": 64, "height": 50, "layer": [
      {"mark": {"type": "line", "color": "black", "strokeWidth": 1.6},
       "encoding": {"x": {"field": "x", "type": "ordinal", "sort": ["Ep","GE","GEp","GNp","I","A"], "scale": {"type": "point", "padding": 1}, "axis": {"title": null, "labels": false}},
        "y": {"field": "y", "type": "quantitative", "scale": {"domain": [-13,100], "nice": false, "zero": false}, "axis": {"title": null, "labels": false, "values": [0,20,40,60,80,100]}}}},
      {"transform": [{"filter": "datum.x == 'Ep'"}], "mark": {"type": "text", "align": "left", "baseline": "top", "dx": -4, "dy": 2, "fontSize": 7, "fill": "black"},
       "encoding": {"x": {"field": "x", "type": "ordinal", "sort": ["Ep","GE","GEp","GNp","I","A"], "title": null}, "y": {"datum": 100, "title": null}, "text": {"field": "f"}}},
      {"transform": [{"filter": "datum.r == 'T'"}], "mark": {"type": "text", "angle": 45, "align": "center", "baseline": "middle", "dx": 1, "dy": 10, "fontSize": 5.5, "fill": "black"},
       "encoding": {"x": {"field": "x", "type": "ordinal", "sort": ["Ep","GE","GEp","GNp","I","A"], "title": null}, "y": {"datum": -13, "title": null}, "text": {"field": "x"}}}
     ]}}
   ]},
  {"title": {"text": "GRUPOS IC", "anchor": "middle", "offset": 15, "fontSize": 9.8, "dx": 19},
   "spacing": 24,
   "hconcat": [
    {"spacing": 34,
     "hconcat": [
      {"spacing": 12,
       "hconcat": [
        {"spacing": 7, "bounds": "flush",
         "vconcat": [
          {"transform": [{"filter": "datum.g == 'IC' && datum.c == 'CONT' && datum.f == 'SE' && datum.r == 'P'"}],
           "width": 64, "height": 50, "layer": [
            {"mark": {"type": "line", "color": "black", "strokeWidth": 1.6},
             "encoding": {"x": {"field": "x", "type": "ordinal", "sort": ["Ep","GE","GEp","GNp","I","A"], "scale": {"type": "point", "padding": 1}, "axis": {"title": null, "labels": false}},
              "y": {"field": "y", "type": "quantitative", "scale": {"domain": [-13,100], "nice": false, "zero": false}, "axis": {"title": "P", "titleAngle": 0, "titleAlign": "right", "titleBaseline": "middle", "titleFontSize": 11, "titleFontWeight": "normal", "titlePadding": -1, "labels": true, "labelPadding": 0, "labelOverlap": false, "labelSeparation": 0, "values": [0,20,40,60,80,100]}}}},
            {"transform": [{"filter": "datum.x == 'Ep'"}], "mark": {"type": "text", "align": "left", "baseline": "top", "dx": -4, "dy": 2, "fontSize": 7, "fill": "black"},
             "encoding": {"x": {"field": "x", "type": "ordinal", "sort": ["Ep","GE","GEp","GNp","I","A"], "title": null}, "y": {"datum": 100, "title": null}, "text": {"field": "f"}}}
           ]},
          {"transform": [{"filter": "datum.g == 'IC' && datum.c == 'CONT' && datum.f == 'SE' && datum.r == 'E'"}],
           "width": 64, "height": 50, "layer": [
            {"mark": {"type": "line", "color": "black", "strokeWidth": 1.6},
             "encoding": {"x": {"field": "x", "type": "ordinal", "sort": ["Ep","GE","GEp","GNp","I","A"], "scale": {"type": "point", "padding": 1}, "axis": {"title": null, "labels": false}},
              "y": {"field": "y", "type": "quantitative", "scale": {"domain": [-13,100], "nice": false, "zero": false}, "axis": {"title": "E", "titleAngle": 0, "titleAlign": "right", "titleBaseline": "middle", "titleFontSize": 11, "titleFontWeight": "normal", "titlePadding": -1, "labels": true, "labelPadding": 0, "labelOverlap": false, "labelSeparation": 0, "values": [0,20,40,60,80,100]}}}},
            {"transform": [{"filter": "datum.x == 'Ep'"}], "mark": {"type": "text", "align": "left", "baseline": "top", "dx": -4, "dy": 2, "fontSize": 7, "fill": "black"},
             "encoding": {"x": {"field": "x", "type": "ordinal", "sort": ["Ep","GE","GEp","GNp","I","A"], "title": null}, "y": {"datum": 100, "title": null}, "text": {"field": "f"}}}
           ]},
          {"transform": [{"filter": "datum.g == 'IC' && datum.c == 'CONT' && datum.f == 'SE' && datum.r == 'PS'"}],
           "width": 64, "height": 50, "layer": [
            {"mark": {"type": "line", "color": "black", "strokeWidth": 1.6},
             "encoding": {"x": {"field": "x", "type": "ordinal", "sort": ["Ep","GE","GEp","GNp","I","A"], "scale": {"type": "point", "padding": 1}, "axis": {"title": null, "labels": false}},
              "y": {"field": "y", "type": "quantitative", "scale": {"domain": [-13,100], "nice": false, "zero": false}, "axis": {"title": "PS", "titleAngle": 0, "titleAlign": "right", "titleBaseline": "middle", "titleFontSize": 11, "titleFontWeight": "normal", "titlePadding": -1, "labels": true, "labelPadding": 0, "labelOverlap": false, "labelSeparation": 0, "values": [0,20,40,60,80,100]}}}},
            {"transform": [{"filter": "datum.x == 'Ep'"}], "mark": {"type": "text", "align": "left", "baseline": "top", "dx": -4, "dy": 2, "fontSize": 7, "fill": "black"},
             "encoding": {"x": {"field": "x", "type": "ordinal", "sort": ["Ep","GE","GEp","GNp","I","A"], "title": null}, "y": {"datum": 100, "title": null}, "text": {"field": "f"}}}
           ]},
          {"transform": [{"filter": "datum.g == 'IC' && datum.c == 'CONT' && datum.f == 'SE' && datum.r == 'T'"}],
           "width": 64, "height": 50, "layer": [
            {"mark": {"type": "line", "color": "black", "strokeWidth": 1.6},
             "encoding": {"x": {"field": "x", "type": "ordinal", "sort": ["Ep","GE","GEp","GNp","I","A"], "scale": {"type": "point", "padding": 1}, "axis": {"title": null, "labels": false}},
              "y": {"field": "y", "type": "quantitative", "scale": {"domain": [-13,100], "nice": false, "zero": false}, "axis": {"title": "T", "titleAngle": 0, "titleAlign": "right", "titleBaseline": "middle", "titleFontSize": 11, "titleFontWeight": "normal", "titlePadding": -1, "labels": true, "labelPadding": 0, "labelOverlap": false, "labelSeparation": 0, "values": [0,20,40,60,80,100]}}}},
            {"transform": [{"filter": "datum.x == 'Ep'"}], "mark": {"type": "text", "align": "left", "baseline": "top", "dx": -4, "dy": 2, "fontSize": 7, "fill": "black"},
             "encoding": {"x": {"field": "x", "type": "ordinal", "sort": ["Ep","GE","GEp","GNp","I","A"], "title": null}, "y": {"datum": 100, "title": null}, "text": {"field": "f"}}},
            {"mark": {"type": "text", "angle": 45, "align": "center", "baseline": "middle", "dx": 1, "dy": 10, "fontSize": 5.5, "fill": "black"},
             "encoding": {"x": {"field": "x", "type": "ordinal", "sort": ["Ep","GE","GEp","GNp","I","A"], "title": null}, "y": {"datum": -13, "title": null}, "text": {"field": "x"}}}
           ]}
         ]},
        {"transform": [{"filter": "datum.g == 'IC' && datum.c == 'CONT' && datum.f != 'SE'"}],
         "facet": {"row": {"field": "r", "type": "nominal", "sort": ["P","E","PS","T"], "title": null, "header": {"labels": false}},
                   "column": {"field": "f", "type": "nominal", "sort": ["SE","R","C"], "title": null, "header": {"labels": false}}},
         "spacing": {"row": 7, "column": 15}, "bounds": "flush",
         "resolve": {"axis": {"x": "independent", "y": "independent"}},
         "spec": {"width": 64, "height": 50, "layer": [
          {"mark": {"type": "line", "color": "black", "strokeWidth": 1.6},
           "encoding": {"x": {"field": "x", "type": "ordinal", "sort": ["Ep","GE","GEp","GNp","I","A"], "scale": {"type": "point", "padding": 1}, "axis": {"title": null, "labels": false}},
            "y": {"field": "y", "type": "quantitative", "scale": {"domain": [-13,100], "nice": false, "zero": false}, "axis": {"title": null, "labels": false, "values": [0,20,40,60,80,100]}}}},
          {"transform": [{"filter": "datum.x == 'Ep'"}], "mark": {"type": "text", "align": "left", "baseline": "top", "dx": -4, "dy": 2, "fontSize": 7, "fill": "black"},
           "encoding": {"x": {"field": "x", "type": "ordinal", "sort": ["Ep","GE","GEp","GNp","I","A"], "title": null}, "y": {"datum": 100, "title": null}, "text": {"field": "f"}}},
          {"transform": [{"filter": "datum.r == 'T'"}], "mark": {"type": "text", "angle": 45, "align": "center", "baseline": "middle", "dx": 1, "dy": 10, "fontSize": 5.5, "fill": "black"},
           "encoding": {"x": {"field": "x", "type": "ordinal", "sort": ["Ep","GE","GEp","GNp","I","A"], "title": null}, "y": {"datum": -13, "title": null}, "text": {"field": "x"}}}
         ]}}
       ]},
      {"transform": [{"filter": "datum.g == 'IC' && datum.c == 'ACUM'"}],
       "facet": {"row": {"field": "r", "type": "nominal", "sort": ["P","E","PS","T"], "title": null, "header": {"labels": false}},
                 "column": {"field": "f", "type": "nominal", "sort": ["SE","R","C"], "title": null, "header": {"labels": false}}},
       "spacing": {"row": 7, "column": 15}, "bounds": "flush",
       "resolve": {"axis": {"x": "independent", "y": "independent"}},
       "spec": {"width": 64, "height": 50, "layer": [
        {"mark": {"type": "line", "color": "black", "strokeWidth": 1.6},
         "encoding": {"x": {"field": "x", "type": "ordinal", "sort": ["Ep","GE","GEp","GNp","I","A"], "scale": {"type": "point", "padding": 1}, "axis": {"title": null, "labels": false}},
          "y": {"field": "y", "type": "quantitative", "scale": {"domain": [-13,100], "nice": false, "zero": false}, "axis": {"title": null, "labels": false, "values": [0,20,40,60,80,100]}}}},
        {"transform": [{"filter": "datum.x == 'Ep'"}], "mark": {"type": "text", "align": "left", "baseline": "top", "dx": -4, "dy": 2, "fontSize": 7, "fill": "black"},
         "encoding": {"x": {"field": "x", "type": "ordinal", "sort": ["Ep","GE","GEp","GNp","I","A"], "title": null}, "y": {"datum": 100, "title": null}, "text": {"field": "f"}}},
        {"transform": [{"filter": "datum.r == 'T'"}], "mark": {"type": "text", "angle": 45, "align": "center", "baseline": "middle", "dx": 1, "dy": 10, "fontSize": 5.5, "fill": "black"},
         "encoding": {"x": {"field": "x", "type": "ordinal", "sort": ["Ep","GE","GEp","GNp","I","A"], "title": null}, "y": {"datum": -13, "title": null}, "text": {"field": "x"}}}
       ]}}
     ]},
    {"transform": [{"filter": "datum.g == 'IC' && datum.c == 'AUS'"}],
     "facet": {"row": {"field": "r", "type": "nominal", "sort": ["P","E","PS","T"], "title": null, "header": {"labels": false}},
               "column": {"field": "f", "type": "nominal", "sort": ["SE","R","C"], "title": null, "header": {"labels": false}}},
     "spacing": {"row": 7, "column": 15}, "bounds": "flush",
     "resolve": {"axis": {"x": "independent", "y": "independent"}},
     "spec": {"width": 64, "height": 50, "layer": [
      {"mark": {"type": "line", "color": "black", "strokeWidth": 1.6},
       "encoding": {"x": {"field": "x", "type": "ordinal", "sort": ["Ep","GE","GEp","GNp","I","A"], "scale": {"type": "point", "padding": 1}, "axis": {"title": null, "labels": false}},
        "y": {"field": "y", "type": "quantitative", "scale": {"domain": [-13,100], "nice": false, "zero": false}, "axis": {"title": null, "labels": false, "values": [0,20,40,60,80,100]}}}},
      {"transform": [{"filter": "datum.x == 'Ep'"}], "mark": {"type": "text", "align": "left", "baseline": "top", "dx": -4, "dy": 2, "fontSize": 7, "fill": "black"},
       "encoding": {"x": {"field": "x", "type": "ordinal", "sort": ["Ep","GE","GEp","GNp","I","A"], "title": null}, "y": {"datum": 100, "title": null}, "text": {"field": "f"}}},
      {"transform": [{"filter": "datum.r == 'T'"}], "mark": {"type": "text", "angle": 45, "align": "center", "baseline": "middle", "dx": 1, "dy": 10, "fontSize": 5.5, "fill": "black"},
       "encoding": {"x": {"field": "x", "type": "ordinal", "sort": ["Ep","GE","GEp","GNp","I","A"], "title": null}, "y": {"datum": -13, "title": null}, "text": {"field": "x"}}}
     ]}}
   ]}
 ]
}]
}
